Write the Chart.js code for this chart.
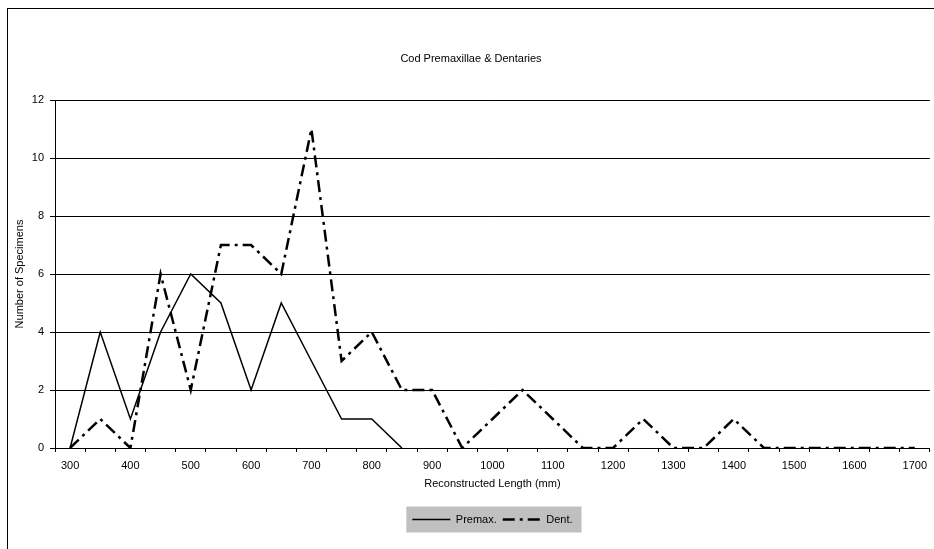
<!DOCTYPE html>
<html>
<head>
<meta charset="utf-8">
<title>Cod Premaxillae &amp; Dentaries</title>
<script src="https://cdn.jsdelivr.net/npm/chart.js@4.4.1/dist/chart.umd.min.js"></script>
<style>
  html, body { margin:0; padding:0; background:#fff; }
  #wrap { width:934px; height:549px; position:relative; }
</style>
</head>
<body>
<div id="wrap"><canvas id="codChart"></canvas></div>
<script>
'use strict';

// categories = reconstructed length bins (mm)
const lengths = ['300','350','400','450','500','550','600','650','700','750','800','850','900','950','1000',
  '1050','1100','1150','1200','1250','1300','1350','1400','1450','1500','1550','1600','1650','1700'];
const xTickLabels = ['300','400','500','600','700','800','900','1000','1100','1200','1300','1400','1500','1600','1700'];
const premax = [0,4,1,4,6,5,2,5,3,1,1,0,null,null,null,null,null,null,null,null,null,null,null,null,null,null,null,null,null];
const dent   = [0,1,0,6,2,7,7,6,11,3,4,2,2,0,1,2,1,0,0,1,0,0,1,0,0,0,0,0,0];
const yTicks = [0,2,4,6,8,10,12];

const FONT = { family:'"Liberation Sans", Arial, sans-serif', size:11, weight:'normal' };

// white page + outer chart frame + grey legend box
const framePlugin = {
  id:'frame',
  beforeDraw(chart) {
    const ctx = chart.ctx;
    ctx.save();
    ctx.fillStyle = '#fff';
    ctx.fillRect(0, 0, chart.width, chart.height);
    ctx.strokeStyle = '#000';
    ctx.lineWidth = 1;
    ctx.strokeRect(7.5, 8.5, chart.width + 20, chart.height + 20);
    const boxes = chart.legend && chart.legend.legendHitBoxes;
    if (boxes && boxes.length) {
      const l = boxes[0].left - 6;
      const r = boxes[boxes.length-1].left + boxes[boxes.length-1].width + 9;
      const t = boxes[0].top - 7.5;
      ctx.fillStyle = '#c0c0c0';
      ctx.fillRect(l, t, r - l, boxes[0].height + 15);
    }
    ctx.restore();
  },
};

new Chart(document.getElementById('codChart'), {
  type:'line',
  data:{
    labels: lengths,
    datasets:[
      { label:'Premax.', data:premax, borderColor:'#000', backgroundColor:'#000', borderWidth:1.5,
        pointRadius:0, tension:0, spanGaps:false },
      { label:'Dent.', data:dent, borderColor:'#000', backgroundColor:'#000', borderWidth:2.5,
        borderDash:[12,5,3,5], pointRadius:0, tension:0 },
    ],
  },
  options:{
    responsive:true,
    maintainAspectRatio:false,
    animation:false,
    layout:{ padding:{ top:8, left:8, right:0, bottom:14 } },
    plugins:{
      title:{ display:true, text:'Cod Premaxillae & Dentaries', color:'#000', font:FONT,
        padding:{ top:44, bottom:34.8 } },
      legend:{
        position:'bottom', fullSize:false,
        labels:{
          color:'#000', font:FONT, usePointStyle:true, pointStyle:'line', pointStyleWidth:38, padding:6,
          // line samples keep each dataset's own width and dash
          generateLabels(chart) {
            return chart.data.datasets.map((ds, i) => ({
              text: ds.label, datasetIndex: i, pointStyle:'line', fontColor:'#000',
              strokeStyle: ds.borderColor, fillStyle: ds.borderColor,
              lineWidth: ds.borderWidth, lineDash: ds.borderDash || [], lineCap:'butt',
              hidden: !chart.isDatasetVisible(i),
            }));
          },
        },
      },
      tooltip:{ enabled:false },
    },
    scales:{
      x:{
        offset:true,
        grid:{ display:true, drawOnChartArea:false, drawTicks:true, tickLength:4, offset:true, color:'#000' },
        border:{ display:true, color:'#000', width:1 },
        ticks:{
          autoSkip:false, maxRotation:0, minRotation:0, padding:7, color:'#000', font:FONT,
          callback(v, i) { return xTickLabels.includes(lengths[i]) ? lengths[i] : ''; },
        },
        title:{ display:true, text:'Reconstructed Length (mm)', color:'#000', font:FONT, padding:{ top:4, bottom:17.4 } },
        afterFit(s) { s.height = 60; },
      },
      y:{
        min:0, max:12,
        afterBuildTicks(s) { s.ticks = yTicks.map(v => ({ value:v })); },
        grid:{ color:'#000', lineWidth:1, tickLength:5, drawTicks:true },
        border:{ display:true, color:'#000', width:1 },
        ticks:{ padding:6, color:'#000', font:FONT },
        title:{ display:true, text:'Number of Specimens', color:'#000', font:FONT, padding:{ top:5, bottom:0 } },
        afterFit(s) { s.width = 47; },
      },
    },
  },
  plugins:[framePlugin],
});
</script>
</body>
</html>
